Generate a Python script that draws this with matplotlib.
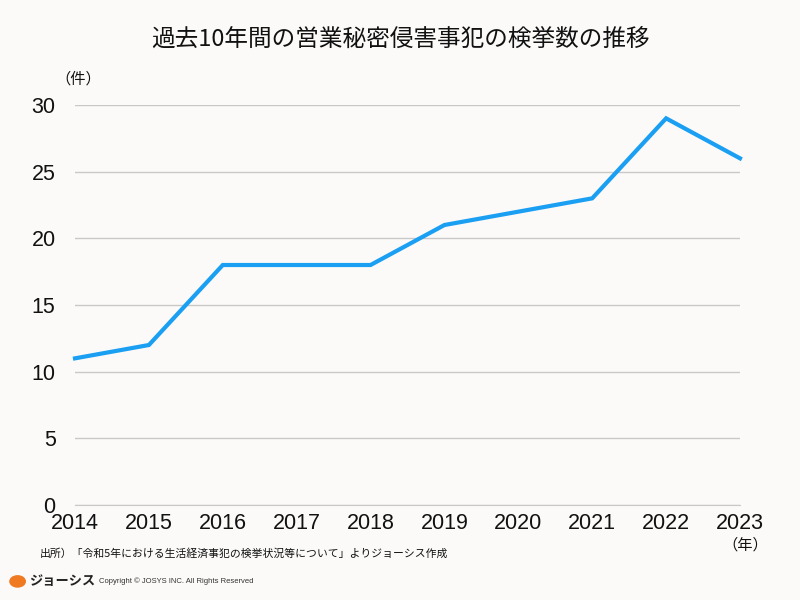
import matplotlib.pyplot as plt
from matplotlib.patches import Circle

plt.rcParams['font.family'] = ['Noto Sans CJK JP', 'DejaVu Sans']

# data
years = [2014, 2015, 2016, 2017, 2018, 2019, 2020, 2021, 2022, 2023]
cases = [11, 12, 18, 18, 18, 21, 22, 23, 29, 26]
yticks = [0, 5, 10, 15, 20, 25, 30]

bg = '#fbfaf9'
fig = plt.figure(figsize=(8, 6), dpi=100, facecolor=bg)
ax = fig.add_axes([0.09375, 0.1583, 0.83125, 0.6667], facecolor=bg)

ax.plot(years, cases, color='#1a9ff2', linewidth=3, solid_joinstyle='miter', clip_on=False)
ax.set_xlim(2014, 2023)
ax.set_ylim(0, 30)
ax.set_yticks(yticks)
ax.set_xticks(years)
ax.grid(axis='y', color='#c8c8c8', linewidth=1)
ax.set_axisbelow(True)
for s in ['left', 'right', 'top']:
    ax.spines[s].set_visible(False)
ax.spines['bottom'].set_color('#c8c8c8')
ax.tick_params(length=0, labelsize=15.5, colors='#111111')
ax.tick_params(axis='y', pad=14)
ax.tick_params(axis='x', pad=6)
for lab in ax.get_xticklabels() + ax.get_yticklabels():
    lab.set_fontfamily(['Liberation Sans', 'DejaVu Sans'])

fig.text(0.5, 0.935, '過去10年間の営業秘密侵害事犯の検挙数の推移', ha='center', va='center',
         fontsize=17, color='#111111')
fig.text(0.098, 0.868, '（件）', ha='center', va='center', fontsize=11, color='#111111')
fig.text(0.932, 0.092, '（年）', ha='center', va='center', fontsize=11, color='#111111')
fig.text(0.05, 0.077, '出所）「令和5年における生活経済事犯の検挙状況等について」よりジョーシス作成',
         ha='left', va='center', fontsize=7.8, color='#111111')

# footer logo
fig.patches.append(Circle((0.022, 0.031), 0.0105, transform=fig.transFigure,
                          facecolor='#f07a22', edgecolor='none'))
fig.text(0.036, 0.031, 'ジョーシス', ha='left', va='center', fontsize=9.5,
         fontweight='bold', color='#222222')
fig.text(0.124, 0.031, 'Copyright © JOSYS INC. All Rights Reserved', ha='left', va='center',
         fontsize=5.5, color='#333333', family=['Liberation Sans', 'DejaVu Sans'])

fig.savefig('out.png', dpi=100, facecolor=bg)
